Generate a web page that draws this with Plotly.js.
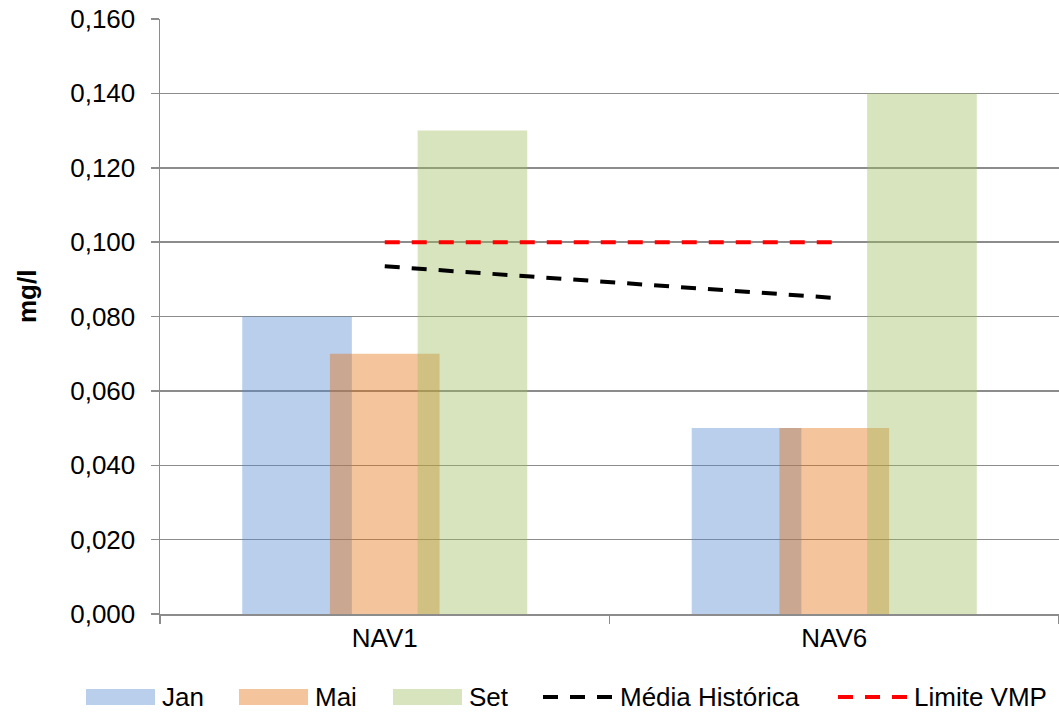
<!DOCTYPE html>
<html>
<head>
<meta charset="utf-8">
<script src="https://cdn.plot.ly/plotly-3.0.1.min.js"></script>
<style>
  html, body { margin: 0; padding: 0; background: #ffffff; }
  #chart { width: 1059px; height: 716px; }
</style>
</head>
<body>
<div id="chart"></div>
<script>
// Sampling points and monthly results (mg/l)
const stations = ['NAV1', 'NAV6'];
const seriesNames = ['Jan', 'Mai', 'Set', 'Média Histórica', 'Limite VMP'];
const jan = [0.080, 0.050];
const mai = [0.070, 0.050];
const set = [0.130, 0.140];
const mediaHistorica = [0.0935, 0.085];
const limiteVMP = [0.100, 0.100];
const yTicks = [0, 0.02, 0.04, 0.06, 0.08, 0.10, 0.12, 0.14, 0.16];

const W = 1059, H = 716;
const M = { l: 160, r: 0, t: 19, b: 102 };
const plotW = W - M.l - M.r, plotH = H - M.t - M.b;
const px2x = px => (px - M.l) / plotW;
const px2y = py => (H - M.b - py) / plotH;

const FONT = 'Liberation Sans, Arial, sans-serif';
const FS = 26;
const GRID = '#8c8c8c';

// Overlapping columns: width 1/4.1 of a category, each step 0.8 of a bar
const bw = 1 / 4.1;
const step = 0.8 * bw;
const firstOffset = -1.3 * bw;

const barColors = ['rgba(82,134,204,0.4)', 'rgba(228,108,10,0.4)', 'rgba(155,187,89,0.4)'];
const barData = [jan, mai, set];

const traces = barData.map((vals, i) => ({
  type: 'bar',
  name: seriesNames[i],
  x: stations,
  y: vals,
  width: bw,
  offset: firstOffset + i * step,
  marker: { color: barColors[i], line: { width: 0 } },
  showlegend: false,
  hoverinfo: 'x+y'
}));

traces.push({
  type: 'scatter', mode: 'lines', name: seriesNames[3],
  x: stations, y: mediaHistorica,
  line: { color: '#000000', width: 4, dash: '15px,12px' },
  showlegend: false
});
traces.push({
  type: 'scatter', mode: 'lines', name: seriesNames[4],
  x: stations, y: limiteVMP,
  line: { color: '#ff0000', width: 4, dash: '15px,12px' },
  showlegend: false
});

// Legend drawn below the plot area
const legendY = 697;
const legendItems = [
  { kind: 'rect', color: barColors[0], x0: 86, x1: 155, tx: 160 },
  { kind: 'rect', color: barColors[1], x0: 239, x1: 308, tx: 313 },
  { kind: 'rect', color: barColors[2], x0: 393, x1: 462, tx: 467 },
  { kind: 'line', color: '#000000', x0: 543, x1: 614, tx: 618 },
  { kind: 'line', color: '#ff0000', x0: 838, x1: 908, tx: 912 }
];
const shapes = [];
const annotations = [];
legendItems.forEach((it, i) => {
  if (it.kind === 'rect') {
    shapes.push({
      type: 'rect', xref: 'paper', yref: 'paper',
      x0: px2x(it.x0), x1: px2x(it.x1),
      y0: px2y(legendY - 8), y1: px2y(legendY + 8),
      fillcolor: it.color, line: { width: 0 }
    });
  } else {
    shapes.push({
      type: 'line', xref: 'paper', yref: 'paper',
      x0: px2x(it.x0), x1: px2x(it.x1),
      y0: px2y(legendY), y1: px2y(legendY),
      line: { color: it.color, width: 4, dash: '15px,12px' }
    });
  }
  annotations.push({
    xref: 'paper', yref: 'paper',
    x: px2x(it.tx), y: px2y(legendY),
    xanchor: 'left', yanchor: 'middle',
    text: seriesNames[i], showarrow: false,
    font: { family: FONT, size: FS, color: '#000000' }
  });
});

// Rotated unit label for the value axis
annotations.push({
  xref: 'paper', yref: 'paper',
  x: px2x(27), y: px2y(297),
  xanchor: 'center', yanchor: 'middle',
  text: '<b>mg/l</b>', textangle: -90, showarrow: false,
  font: { family: FONT, size: FS, color: '#000000' }
});

const layout = {
  width: W, height: H,
  margin: M,
  paper_bgcolor: '#ffffff',
  plot_bgcolor: '#ffffff',
  barmode: 'overlay',
  separators: ', ',
  showlegend: false,
  font: { family: FONT, size: FS, color: '#000000' },
  xaxis: {
    type: 'category',
    tickson: 'boundaries',
    ticks: 'outside', ticklen: 8, tickcolor: GRID, tickwidth: 1.5,
    showline: true, linecolor: GRID, linewidth: 1.5,
    showgrid: false, zeroline: false,
    tickfont: { family: FONT, size: FS, color: '#000000' },
    range: [-0.5, 1.5]
  },
  yaxis: {
    range: [0, 0.16],
    tickvals: yTicks,
    tickformat: '.3f',
    ticks: 'outside', ticklen: 8, tickcolor: GRID, tickwidth: 1.5,
    showline: true, linecolor: GRID, linewidth: 1.5,
    showgrid: true, gridcolor: GRID, gridwidth: 1.5,
    zeroline: false,
    tickfont: { family: FONT, size: FS, color: '#000000' },
    ticklabelstandoff: 10
  },
  shapes: shapes,
  annotations: annotations
};

Plotly.newPlot('chart', traces, layout, { displayModeBar: false, staticPlot: true });
</script>
</body>
</html>
